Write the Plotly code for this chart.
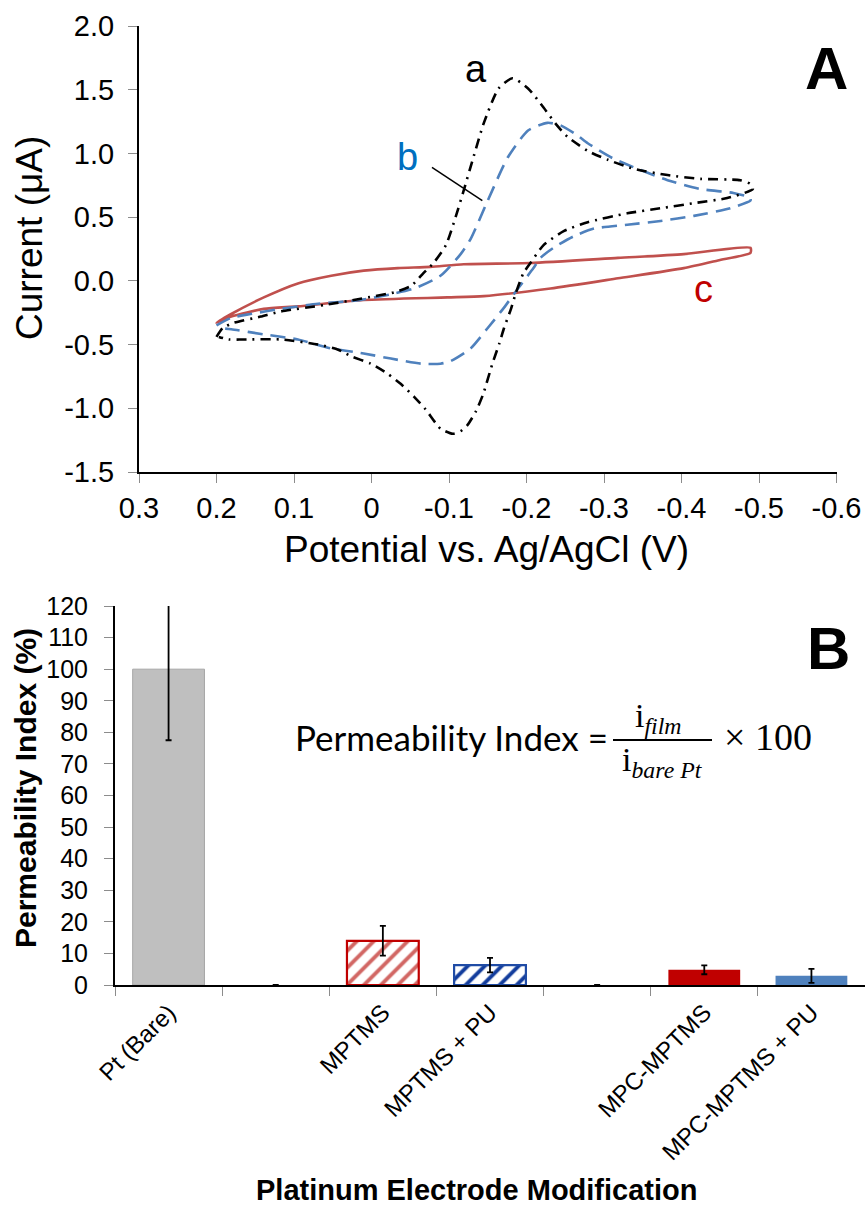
import plotly.graph_objects as go

# ---------------- Panel A: cyclic voltammograms ----------------
a_E = [0.200, 0.192, 0.178, 0.143, 0.117, 0.061, 0.014, -0.029, -0.051, -0.067, -0.080, -0.096, -0.109, -0.119,
       -0.132, -0.145, -0.164, -0.182, -0.202, -0.222, -0.238, -0.253, -0.279, -0.305, -0.338, -0.382, -0.425,
       -0.476, -0.489, -0.492, -0.459, -0.416, -0.373, -0.330, -0.279, -0.248, -0.222, -0.205, -0.196, -0.186,
       -0.180, -0.171, -0.165, -0.156, -0.144, -0.135, -0.124, -0.115, -0.105, -0.089, -0.070, -0.055, -0.038,
       -0.021, 0.001, 0.027, 0.043, 0.069, 0.117, 0.165, 0.184, 0.197]
a_I = [-0.44, -0.37, -0.33, -0.28, -0.24, -0.19, -0.14, -0.09, -0.04, 0.06, 0.14, 0.28, 0.51, 0.71,
       0.98, 1.24, 1.51, 1.59, 1.51, 1.36, 1.23, 1.13, 1.02, 0.95, 0.88, 0.83, 0.80,
       0.79, 0.76, 0.72, 0.65, 0.61, 0.57, 0.53, 0.46, 0.39, 0.28, 0.14, 0.06, -0.10,
       -0.22, -0.37, -0.49, -0.65, -0.89, -1.02, -1.13, -1.18, -1.20, -1.16, -1.01, -0.91, -0.81,
       -0.73, -0.65, -0.59, -0.54, -0.50, -0.46, -0.46, -0.46, -0.44]

b_E = [0.200, 0.181, 0.156, 0.117, 0.069, 0.014, -0.029, -0.055, -0.089, -0.115, -0.128, -0.150, -0.176,
       -0.202, -0.227, -0.244, -0.266, -0.279, -0.312, -0.347, -0.382, -0.425, -0.467, -0.489, -0.489,
       -0.463, -0.416, -0.373, -0.330, -0.287, -0.261, -0.235, -0.218, -0.209, -0.189, -0.171, -0.150,
       -0.128, -0.102, -0.089, -0.064, -0.025, 0.010, 0.052, 0.095, 0.139, 0.181, 0.197]
b_I = [-0.35, -0.29, -0.26, -0.22, -0.18, -0.15, -0.10, -0.06, 0.04, 0.21, 0.33, 0.63, 0.97,
       1.18, 1.24, 1.22, 1.14, 1.08, 0.96, 0.87, 0.79, 0.72, 0.69, 0.65, 0.63,
       0.57, 0.51, 0.47, 0.44, 0.41, 0.35, 0.26, 0.18, 0.10, -0.06, -0.21, -0.37,
       -0.53, -0.63, -0.65, -0.65, -0.61, -0.57, -0.53, -0.46, -0.42, -0.38, -0.37]

c_E = [0.200, 0.181, 0.139, 0.095, 0.052, 0.010, -0.034, -0.076, -0.119, -0.205, -0.318, -0.403, -0.489,
       -0.489, -0.447, -0.403, -0.318, -0.231, -0.145, -0.098, 0.010, 0.095, 0.139, 0.181, 0.200]
c_I = [-0.33, -0.26, -0.13, -0.02, 0.04, 0.08, 0.10, 0.11, 0.13, 0.14, 0.18, 0.21, 0.26,
       0.22, 0.16, 0.10, 0.02, -0.06, -0.12, -0.13, -0.15, -0.20, -0.22, -0.28, -0.33]

cv_xtick_vals = [0.3, 0.2, 0.1, 0.0, -0.1, -0.2, -0.3, -0.4, -0.5, -0.6]
cv_xtick_text = ["0.3", "0.2", "0.1", "0", "-0.1", "-0.2", "-0.3", "-0.4", "-0.5", "-0.6"]
cv_ytick_vals = [2.0, 1.5, 1.0, 0.5, 0.0, -0.5, -1.0, -1.5]
cv_ytick_text = ["2.0", "1.5", "1.0", "0.5", "0.0", "-0.5", "-1.0", "-1.5"]

# ---------------- Panel B: permeability index ----------------
categories = ["Pt (Bare)", " ", "MPTMS", "MPTMS + PU", "  ", "MPC-MPTMS", "MPC-MPTMS + PU"]
perm_values = [100.0, 0.0, 14.0, 6.3, 0.0, 4.8, 2.9]
perm_errors = [22.5, 0.0, 4.7, 2.3, 0.0, 1.4, 2.2]

ARIAL = "Arial, Liberation Sans, sans-serif"
SERIF = "Liberation Serif, DejaVu Serif, serif"

fig = go.Figure()

fig.add_trace(go.Scatter(x=c_E, y=c_I, mode="lines",
                         line=dict(color="#C0504D", width=2.6, shape="spline", smoothing=0.6),
                         xaxis="x", yaxis="y", showlegend=False))
fig.add_trace(go.Scatter(x=b_E, y=b_I, mode="lines",
                         line=dict(color="#4F81BD", width=2.6, dash="15px,8px", shape="spline", smoothing=0.6),
                         xaxis="x", yaxis="y", showlegend=False))
fig.add_trace(go.Scatter(x=a_E, y=a_I, mode="lines",
                         line=dict(color="black", width=2.6, dash="10px,6px,2px,6px", shape="spline", smoothing=0.6),
                         xaxis="x", yaxis="y", showlegend=False))

bar_fill = ["#BFBFBF", "rgba(0,0,0,0)", "white", "white", "rgba(0,0,0,0)", "#C00000", "#4F81BD"]
bar_line = ["#A6A6A6", "rgba(0,0,0,0)", "#C00000", "#1F4BA5", "rgba(0,0,0,0)", "#C00000", "#4F81BD"]
bar_line_w = [1, 0, 2.2, 2.2, 0, 0, 0]
pat_shape = ["", "", "/", "/", "", "", ""]
pat_fg = ["", "", "#D26764", "#123C9C", "", "", ""]

for i, cat in enumerate(categories):
    marker = dict(color=bar_fill[i], line=dict(color=bar_line[i], width=bar_line_w[i]))
    if pat_shape[i]:
        marker["pattern"] = dict(shape=pat_shape[i], fgcolor=pat_fg[i], bgcolor="white",
                                 size=12, solidity=0.32, fillmode="replace")
    fig.add_trace(go.Bar(
        x=[cat], y=[perm_values[i]], width=0.67, marker=marker,
        error_y=dict(type="data", array=[perm_errors[i]], color="black", thickness=1.8, width=3),
        xaxis="x2", yaxis="y2", showlegend=False))

W, H = 865, 1205
def px(x):
    return x / W
def py(y):
    return 1 - y / H

axis_common = dict(showgrid=False, zeroline=False, showline=True, linecolor="black", linewidth=2,
                   ticks="outside", ticklen=9, tickcolor="#8C8C8C", tickwidth=1, automargin=False)

fig.update_layout(
    template="none",
    width=W, height=H, margin=dict(l=0, r=0, t=0, b=0, pad=0, autoexpand=False),
    paper_bgcolor="white", plot_bgcolor="white", showlegend=False, barmode="overlay",
    xaxis=dict(domain=[px(139), px(836.5)], range=[0.3, -0.6], anchor="y",
               tickmode="array", tickvals=cv_xtick_vals, ticktext=cv_xtick_text,
               ticklabelstandoff=0, tickfont=dict(family=ARIAL, size=29, color="black"), **axis_common),
    yaxis=dict(domain=[py(472), py(26)], range=[-1.5, 2.0], anchor="x",
               tickmode="array", tickvals=cv_ytick_vals, ticktext=cv_ytick_text,
               ticklabelstandoff=8, tickfont=dict(family=ARIAL, size=29, color="black"), **axis_common),
    xaxis2=dict(domain=[px(115), 1.0], type="category", range=[-0.5, 6.5], anchor="y2",
                categoryorder="array", categoryarray=categories,
                tickson="boundaries", tickangle=-45, ticklabelstandoff=2,
                tickfont=dict(family=ARIAL, size=24, color="black"), **axis_common),
    yaxis2=dict(domain=[py(985), py(606)], range=[0, 120], anchor="x2",
                tickmode="linear", tick0=0, dtick=10, ticklabelstandoff=11,
                tickfont=dict(family=ARIAL, size=25, color="black"), **axis_common),
)

annotations = [
    # panel A
    dict(text="Current (μA)", x=px(30), y=py(238), xref="paper", yref="paper", textangle=-90,
         font=dict(family=ARIAL, size=37, color="black"), showarrow=False, xanchor="center", yanchor="middle"),
    dict(text="Potential vs. Ag/AgCl (V)", x=px(486), y=py(550), xref="paper", yref="paper",
         font=dict(family=ARIAL, size=37, color="black"), showarrow=False, xanchor="center", yanchor="middle"),
    dict(text="<b>A</b>", x=px(826), y=py(68), xref="paper", yref="paper",
         font=dict(family=ARIAL, size=60, color="black"), showarrow=False, xanchor="center", yanchor="middle"),
    dict(text="a", x=-0.135, y=1.66, xref="x", yref="y",
         font=dict(family=ARIAL, size=38, color="black"), showarrow=False),
    dict(text="b", x=-0.047, y=0.97, xref="x", yref="y",
         font=dict(family=ARIAL, size=38, color="#0070C0"), showarrow=False),
    dict(text="c", x=-0.429, y=-0.063, xref="x", yref="y",
         font=dict(family=ARIAL, size=38, color="#C00000"), showarrow=False),
    # panel B
    dict(text="<b>Permeability Index (%)</b>", x=px(25), y=py(788), xref="paper", yref="paper", textangle=-90,
         font=dict(family=ARIAL, size=30, color="black"), showarrow=False, xanchor="center", yanchor="middle"),
    dict(text="<b>Platinum Electrode Modification</b>", x=px(477), y=py(1190), xref="paper", yref="paper",
         font=dict(family=ARIAL, size=29, color="black"), showarrow=False, xanchor="center", yanchor="middle"),
    dict(text="<b>B</b>", x=px(828), y=py(648), xref="paper", yref="paper",
         font=dict(family=ARIAL, size=60, color="black"), showarrow=False, xanchor="center", yanchor="middle"),
    dict(text="Permeability Index =", x=px(610), y=py(737), xref="paper", yref="paper",
         font=dict(family="Lato, Open Sans, sans-serif", size=35, color="black"), showarrow=False,
         xanchor="right", yanchor="middle"),
    dict(text="i<sub><i>film</i></sub>", x=px(658), y=py(718), xref="paper", yref="paper",
         font=dict(family=SERIF, size=34, color="black"), showarrow=False,
         xanchor="center", yanchor="middle"),
    dict(text="i<sub><i>bare Pt</i></sub>", x=px(662), y=py(762), xref="paper", yref="paper",
         font=dict(family=SERIF, size=34, color="black"), showarrow=False,
         xanchor="center", yanchor="middle"),
    dict(text="× 100", x=px(722), y=py(737), xref="paper", yref="paper",
         font=dict(family=SERIF, size=38, color="black"), showarrow=False,
         xanchor="left", yanchor="middle"),
]
fig.update_layout(annotations=annotations)

fig.add_shape(type="line", xref="x", yref="y", x0=-0.078, y0=0.89, x1=-0.143, y1=0.63,
              line=dict(color="black", width=1.5))
fig.add_shape(type="line", xref="paper", yref="paper", x0=px(613), x1=px(712), y0=py(740), y1=py(740),
              line=dict(color="black", width=2))

fig.write_html("out.html")
